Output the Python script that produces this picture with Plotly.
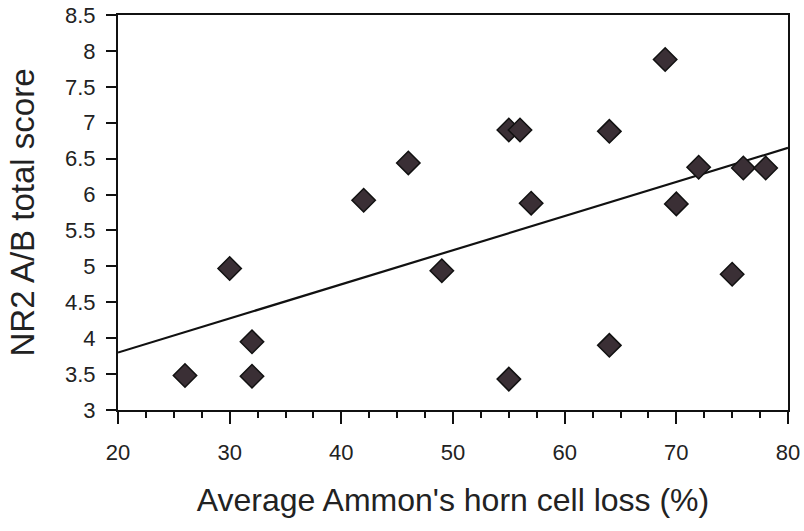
import plotly.graph_objects as go

# Data
cell_loss = [26, 30, 32, 32, 42, 46, 49, 55, 56, 57, 55, 64, 64, 69, 72, 70, 76, 78, 75]
nr2_score = [3.48, 4.97, 3.95, 3.47, 5.92, 6.44, 4.94, 6.9, 6.9, 5.88, 3.43, 6.88, 3.9, 7.88, 6.38, 5.87, 6.37, 6.37, 4.89]

fit_x = [20, 80]
fit_y = [3.8, 6.65]

x_ticks = [20, 30, 40, 50, 60, 70, 80]
y_ticks = [3, 3.5, 4, 4.5, 5, 5.5, 6, 6.5, 7, 7.5, 8, 8.5]
y_tick_text = ["3", "3.5", "4", "4.5", "5", "5.5", "6", "6.5", "7", "7.5", "8", "8.5"]

fig = go.Figure()
fig.add_trace(go.Scatter(
    x=fit_x, y=fit_y, mode="lines",
    line=dict(color="#111111", width=2.2),
    showlegend=False, hoverinfo="skip",
))
fig.add_trace(go.Scatter(
    x=cell_loss, y=nr2_score, mode="markers",
    marker=dict(symbol="diamond", size=18, color="#3a2f35",
                line=dict(color="#111111", width=1.5)),
    showlegend=False,
))

font_family = "Liberation Sans, Arial, sans-serif"
fig.update_layout(
    width=804, height=531,
    margin=dict(l=118, r=16, t=15, b=121),
    paper_bgcolor="white", plot_bgcolor="white",
    font=dict(family=font_family, color="#222222"),
    xaxis=dict(
        range=[20, 80], tickvals=x_ticks, ticks="outside", ticklen=12, tickwidth=2,
        tickcolor="#111111", showline=True, linecolor="#111111", linewidth=2,
        mirror=True, showgrid=False, zeroline=False, automargin=False,
        tickfont=dict(size=22, color="#222222"), ticklabelstandoff=10,
        minor=dict(dtick=2.5, ticks="outside", ticklen=6, tickwidth=2, tickcolor="#111111"),
        title=dict(text="Average Ammon's horn cell loss (%)", font=dict(size=32, color="#222222"),
                   standoff=24),
    ),
    yaxis=dict(
        range=[3, 8.5], tickvals=y_ticks, ticktext=y_tick_text, ticks="outside", ticklen=10,
        tickwidth=2, tickcolor="#111111", showline=True, linecolor="#111111", linewidth=2,
        mirror=True, showgrid=False, zeroline=False, automargin=False,
        tickfont=dict(size=22, color="#222222"), ticklabelstandoff=6,
        title=dict(text="NR2 A/B total score", font=dict(size=33, color="#222222"), standoff=20),
    ),
)

fig.write_html("out.html")
